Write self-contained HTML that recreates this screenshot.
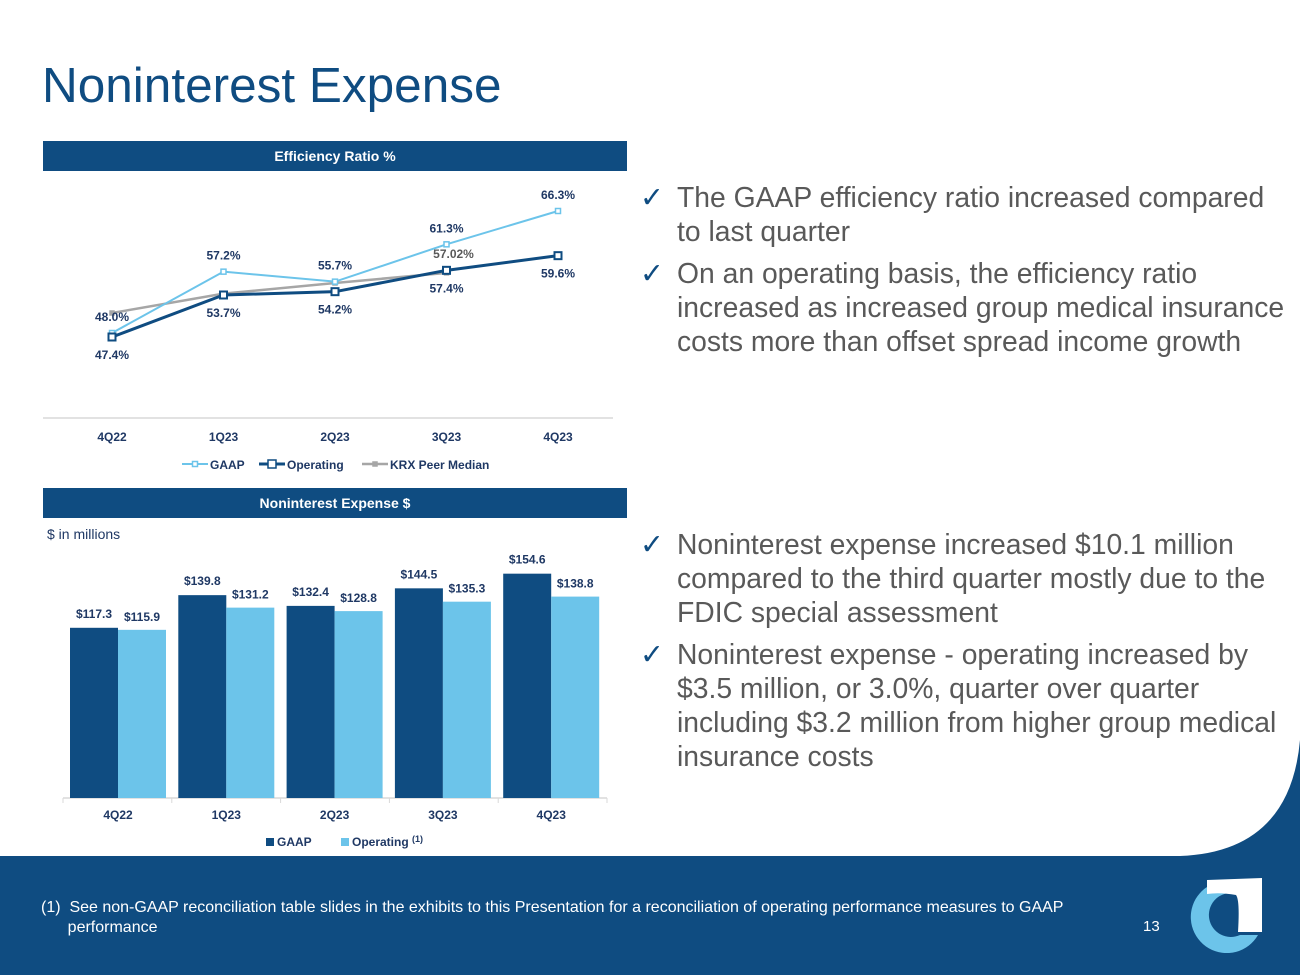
<!DOCTYPE html>
<html><head><meta charset="utf-8"><style>
body{margin:0;width:1300px;height:975px;position:relative;background:#fff;font-family:"Liberation Sans",sans-serif;overflow:hidden}
.t{position:absolute;white-space:nowrap}
.bar{position:absolute;left:43px;width:584px;height:30px;background:#0f4c81;color:#fff;font-weight:bold;font-size:14px;text-align:center;line-height:30px}
.bl{position:absolute;left:640px;font-size:28.3px;color:#595959;line-height:34px;white-space:nowrap}
.bl span{position:absolute;left:0;color:#0f4c81}
.bl div{margin-left:37px}
</style></head><body>
<div class="t" style="left:42px;top:57px;font-size:49.5px;color:#0f4c81">Noninterest Expense</div>
<div class="bar" style="top:141px">Efficiency Ratio %</div>
<div class="bar" style="top:488px">Noninterest Expense $</div>
<div class="t" style="left:47px;top:526px;font-size:14px;color:#1f3864">$ in millions</div>

<svg id="c1" style="position:absolute;left:0;top:0" width="650" height="480"></svg>
<svg id="c2" style="position:absolute;left:0;top:0" width="650" height="860"></svg>

<div class="bl" style="top:180px"><span>✓</span><div>The GAAP efficiency ratio increased compared<br>to last quarter</div></div>
<div class="bl" style="top:256px"><span>✓</span><div>On an operating basis, the efficiency ratio<br>increased as increased group medical insurance<br>costs more than offset spread income growth</div></div>
<div class="bl" style="top:527px"><span>✓</span><div>Noninterest expense increased $10.1 million<br>compared to the third quarter mostly due to the<br>FDIC special assessment</div></div>
<div class="bl" style="top:637px"><span>✓</span><div>Noninterest expense - operating increased by<br>$3.5 million, or 3.0%, quarter over quarter<br>including $3.2 million from higher group medical<br>insurance costs</div></div>

<svg style="position:absolute;left:0;top:0" width="1300" height="975">
<path d="M0,856 L1180,856 Q1290,852 1300,740 L1300,975 L0,975 Z" fill="#0f4c81"/>
<path d="M1245,886 A36,36 0 1 0 1258,935 L1240,935 A22,22 0 1 1 1232,893 Z" fill="#6cc4ea"/>
<path d="M1207,880 L1262,878 L1262,932 L1238,932 Q1240,900 1236,895 Q1220,892 1207,894 Z" fill="#fff"/>
</svg>
<div class="t" style="left:41px;top:898px;font-size:16px;color:#fff;line-height:20px">(1)&nbsp; See non-GAAP reconciliation table slides in the exhibits to this Presentation for a reconciliation of operating performance measures to GAAP<br>&nbsp;&nbsp;&nbsp;&nbsp;&nbsp;&nbsp;performance</div>
<div class="t" style="left:1143px;top:918px;font-size:15px;color:#fff">13</div>

<script>
const quarters=['4Q22','1Q23','2Q23','3Q23','4Q23'];
const gaapRatio=[48.0,57.2,55.7,61.3,66.3];
const opRatio=[47.4,53.7,54.2,57.4,59.6];
const peerRatio=[51.0,53.9,55.5,57.02];
const gaapExp=[117.3,139.8,132.4,144.5,154.6];
const opExp=[115.9,131.2,128.8,135.3,138.8];
const NS='http://www.w3.org/2000/svg';
const LC='#1f3864';
function mk(p,tag,a,txt){const e=document.createElementNS(NS,tag);for(const k in a)e.setAttribute(k,a[k]);if(txt!=null)e.textContent=txt;p.appendChild(e);return e;}
const c1=document.getElementById('c1');
const lx=i=>112+i*111.5;
const ly=v=>337-(v-47.4)*6.667;
let e=mk(c1,'line',{x1:43,x2:613,y1:418,y2:418,stroke:'#d9d9d9','stroke-width':1.5});


quarters.forEach((q,i)=>{const t=mk(c1,'text',{x:lx(i),y:441,'text-anchor':'middle','font-size':12,'font-weight':'bold',fill:LC},q);

});
function series(arr,color,w,ms,name){
const p=mk(c1,'polyline',{points:arr.map((v,i)=>lx(i)+','+ly(v)).join(' '),fill:'none',stroke:color,'stroke-width':w});


arr.forEach((v,i)=>{const r=mk(c1,'rect',{x:lx(i)-ms/2,y:ly(v)-ms/2,width:ms,height:ms,fill:name=='peer'?color:'#fff',stroke:color,'stroke-width':name=='operating'?2:1.5});

});}
series(peerRatio,'#a6a6a6',2.5,4,'peer');
series(gaapRatio,'#6cc4ea',2,5,'gaap');
series(opRatio,'#0f4c81',3,7,'operating');
function lbl(x,y,s,name,fill){const t=mk(c1,'text',{x:x,y:y,'text-anchor':'middle','font-size':12,'font-weight':'bold',fill:fill||LC},s);

}
gaapRatio.forEach((v,i)=>lbl(lx(i),ly(v)-12,v.toFixed(1)+'%','gaap-value-label'));
opRatio.forEach((v,i)=>lbl(lx(i),ly(v)+22,v.toFixed(1)+'%','operating-value-label'));
lbl(lx(3)+7,ly(peerRatio[3])-15,peerRatio[3].toFixed(2)+'%','peer-value-label','#595959');
[[182,'#6cc4ea','GAAP',5,2],[259,'#0f4c81','Operating',8,3],[362,'#a6a6a6','KRX Peer Median',4,2.5]].forEach(([x,c,n,s,w])=>{
const g=mk(c1,'g',{});


mk(g,'line',{x1:x,x2:x+26,y1:464,y2:464,stroke:c,'stroke-width':w});
mk(g,'rect',{x:x+13-s/2,y:464-s/2,width:s,height:s,fill:n.startsWith('KRX')?c:'#fff',stroke:c,'stroke-width':1.5});
mk(g,'text',{x:x+28,y:469,'font-size':12,'font-weight':'bold',fill:LC},n);});
const c2=document.getElementById('c2');
const gx=i=>118+i*108.3;
const by=v=>798-v*1.451;
e=mk(c2,'line',{x1:63,x2:607,y1:798,y2:798,stroke:'#d9d9d9','stroke-width':1.5});


for(let i=0;i<=5;i++)mk(c2,'line',{x1:63+i*108.8,x2:63+i*108.8,y1:798,y2:803,stroke:'#d9d9d9'});
quarters.forEach((q,i)=>{
const t=mk(c2,'text',{x:gx(i),y:819,'text-anchor':'middle','font-size':12,'font-weight':'bold',fill:LC},q);


const a=mk(c2,'rect',{x:gx(i)-48,y:by(gaapExp[i]),width:48,height:798-by(gaapExp[i]),fill:'#0f4c81'});


const b=mk(c2,'rect',{x:gx(i),y:by(opExp[i]),width:48,height:798-by(opExp[i]),fill:'#6cc4ea'});


const l1=mk(c2,'text',{x:gx(i)-24,y:by(gaapExp[i])-10,'text-anchor':'middle','font-size':12,'font-weight':'bold',fill:LC},'$'+gaapExp[i].toFixed(1));


const l2=mk(c2,'text',{x:gx(i)+24,y:by(opExp[i])-9,'text-anchor':'middle','font-size':12,'font-weight':'bold',fill:LC},'$'+opExp[i].toFixed(1));

});
let g=mk(c2,'g',{});


mk(g,'rect',{x:266,y:838,width:8,height:8,fill:'#0f4c81'});
mk(g,'text',{x:277,y:846,'font-size':12,'font-weight':'bold',fill:LC},'GAAP');
mk(g,'rect',{x:341,y:838,width:8,height:8,fill:'#6cc4ea'});
mk(g,'text',{x:352,y:846,'font-size':12,'font-weight':'bold',fill:LC},'Operating');
mk(g,'text',{x:412,y:842,'font-size':9,'font-weight':'bold',fill:LC},'(1)');
</script>
</body></html>
